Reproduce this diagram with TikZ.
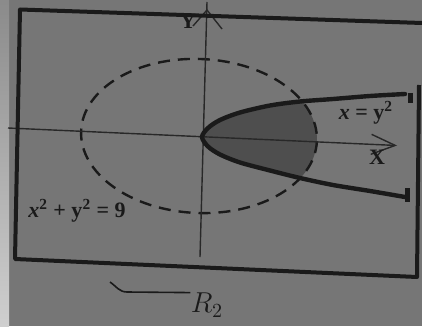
\documentclass[tikz,border=0pt]{standalone}
\usepackage{fontspec}
\setmainfont{Liberation Serif}
\usetikzlibrary{arrows.meta}
\definecolor{paper}{RGB}{118,118,118}
\definecolor{ink}{RGB}{26,26,26}
\definecolor{darkfill}{RGB}{78,78,78}
\tikzstyle{frameline}=[draw=ink, line width=2pt, line join=round]
\tikzstyle{axisline}=[draw=ink!85!paper, line width=0.7pt]
\tikzstyle{curve}=[draw=ink, line width=2.2pt, line cap=round]
\tikzstyle{circ}=[draw=ink, line width=1.2pt, dash pattern=on 6pt off 4pt]
\tikzstyle{lbl}=[text=ink, inner sep=0pt, font=\fontsize{11}{13}\selectfont\bfseries]
\newcommand{\lbl}{\node[lbl]}

\begin{document}
\begin{tikzpicture}[x=0.5pt, y=-0.5pt]
\useasboundingbox (0,0) rectangle (422,326);
\fill[paper] (0,0) rectangle (422,326);
\shade[top color=paper!85!white, bottom color=paper!35!white] (0,0) rectangle (9,326);

\coordinate (O) at (199,136);
\coordinate (xstart) at (8,128);
\coordinate (xtip) at (397,145.5);
\coordinate (ybot) at (200,257);
\coordinate (ytop) at (207,2);
\coordinate (ytip) at (207,10);
\coordinate (ybl) at (193,26);
\coordinate (ybr) at (222,29);
\coordinate (topend) at (410,93);
\coordinate (topend2) at (410,103);
\coordinate (botend) at (407,188);
\coordinate (botend2) at (407,202);

\begin{scope}
\clip (O) ellipse [x radius=118, y radius=77, rotate=-2.5];
\fill[darkfill] plot[smooth] coordinates {(405,94) (370,96) (333,99) (300,101.5)
  (270,105.5) (240,112.5) (220,120) (208,128) (202,137) (208,146.5) (220,154.5)
  (240,162.5) (270,170.5) (300,178) (333,185) (370,191) (405,197)} -- cycle;
\end{scope}

\draw[circ] (O) ellipse [x radius=118, y radius=77, rotate=-2.5];

\draw[axisline, -{Straight Barb[length=12pt, width=10pt]}] (xstart) -- (xtip);
\draw[axisline] (ybot) -- (ytop);
\draw[axisline] (ybl) -- (ytip) -- (ybr);

\draw[curve] plot[smooth] coordinates {(405,94) (370,96) (333,99) (300,101.5)
  (270,105.5) (240,112.5) (220,120) (208,128) (202,137) (208,146.5) (220,154.5)
  (240,162.5) (270,170.5) (300,178) (333,185) (370,191) (405,197)};
\draw[curve, line cap=butt, line width=2.5pt] (topend) -- (topend2);
\draw[curve, line cap=butt, line width=2.5pt] (botend) -- (botend2);

\lbl (ylab) at (188,21) {Y};
\draw[frameline] (422,23) -- (20,9.5) -- (15,259) -- (417,277) -- (419,85);

\lbl (xlab) at (377,157) {X};
\lbl (parab) at (366,113) {\textit{x} = y\textsuperscript{2}};
\lbl (circle) at (77,211) {\textit{x}\textsuperscript{2} + y\textsuperscript{2} = 9};

\node[text=ink, inner sep=0pt, font=\fontsize{14}{16}\selectfont] (rtwo) at (207,305) {$R_2$};
\coordinate (hook) at (110,282);
\coordinate (bend) at (127,292);
\draw[ink, line width=0.8pt] (hook) to[out=-35, in=180] (bend) -- (rtwo.north west);
\end{tikzpicture}
\end{document}
